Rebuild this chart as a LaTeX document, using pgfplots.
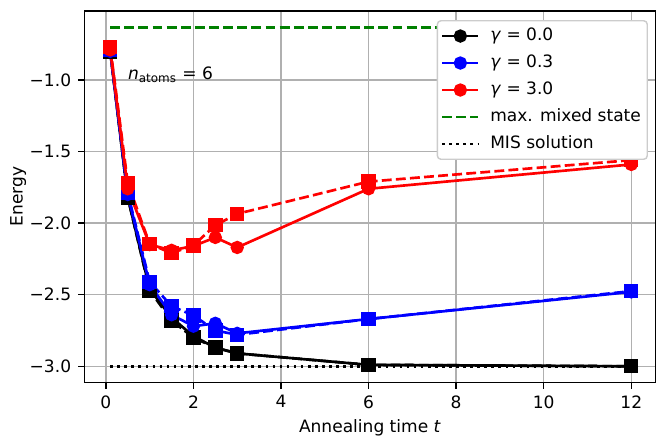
\documentclass[border=0pt]{standalone}
\usepackage{pgfplots}
\pgfplotsset{compat=1.18}
\usepackage{fontspec}
\setmainfont{DejaVu Sans}
\definecolor{gridgray}{HTML}{B0B0B0}
\definecolor{mplgreen}{HTML}{008000}
\definecolor{legframe}{HTML}{CCCCCC}
\begin{document}
\begin{tikzpicture}[font=\fontsize{9.6}{11.5}\selectfont]
\begin{axis}[
  scale only axis, width=321.4pt, height=209.1pt,
  xmin=-0.486, xmax=12.548, ymin=-3.112, ymax=-0.518,
  xtick={0,2,4,6,8,10,12}, xticklabels={0,2,4,6,8,10,12},
  ytick={-3,-2.5,-2,-1.5,-1}, yticklabels={−3.0,−2.5,−2.0,−1.5,−1.0},
  tick align=outside, xtick pos=lower, ytick pos=left,
  major tick length=3.5pt,
  tick style={line width=0.8pt, black},
  grid=major, grid style={line width=0.8pt, color=gridgray},
  axis line style={line width=0.8pt},
  xlabel={Annealing time \textit{t}}, ylabel={Energy},
  xlabel style={at={(axis description cs:0.5,-0.1363)}, anchor=base, inner sep=0pt},
  ylabel style={at={(axis description cs:-0.1086,0.5)}, anchor=base, inner sep=0pt},
  xticklabel style={anchor=north, inner sep=0pt},
  yticklabel style={anchor=east, inner sep=0pt},
  xticklabel shift=3.7pt, yticklabel shift=3.9pt,
  legend cell align=left,
  legend style={at={(axis description cs:0.9872,0.9756)}, anchor=north east,
    draw=legframe, line width=0.8pt, rounded corners=2pt, fill=white,
    inner xsep=2pt, inner ysep=2.2pt, row sep=2.4pt, column sep=4.3pt,
    nodes={inner sep=1.6pt, text height=7.2pt, text depth=2.4pt}},
  legend image code/.code={\draw[#1, mark repeat=2, mark phase=2] plot coordinates {(0pt,0pt) (10.2pt,0pt) (20.4pt,0pt)};},
  every axis plot/.append style={line width=1.5pt},
  clip=false,
]
% gamma = 0.0
\addplot[black, solid, mark=*, mark size=3pt] coordinates {
 (0.1,-0.80) (0.5,-1.82) (1,-2.46) (1.5,-2.66) (2,-2.79) (2.5,-2.87) (3,-2.91) (6,-2.99) (12,-3.00)};
\addlegendentry{\textit{γ} = 0.0}
\addplot[black, dash pattern=on 5.55pt off 2.4pt, mark=square*, mark size=3.3pt, mark options={solid}, forget plot] coordinates {
 (0.1,-0.80) (0.5,-1.82) (1,-2.47) (1.5,-2.68) (2,-2.80) (2.5,-2.87) (3,-2.91) (6,-2.99) (12,-3.00)};
% gamma = 0.3
\addplot[blue, solid, mark=*, mark size=3pt] coordinates {
 (0.1,-0.80) (0.5,-1.80) (1,-2.43) (1.5,-2.64) (2,-2.72) (2.5,-2.70) (3,-2.77) (6,-2.67) (12,-2.48)};
\addlegendentry{\textit{γ} = 0.3}
\addplot[blue, dash pattern=on 5.55pt off 2.4pt, mark=square*, mark size=3.3pt, mark options={solid}, forget plot] coordinates {
 (0.1,-0.79) (0.5,-1.79) (1,-2.41) (1.5,-2.58) (2,-2.645) (2.5,-2.75) (3,-2.78) (6,-2.67) (12,-2.475)};
% gamma = 3.0
\addplot[red, solid, mark=*, mark size=3pt] coordinates {
 (0.1,-0.79) (0.5,-1.76) (1,-2.15) (1.5,-2.19) (2,-2.16) (2.5,-2.10) (3,-2.17) (6,-1.76) (12,-1.59)};
\addlegendentry{\textit{γ} = 3.0}
\addplot[red, dash pattern=on 5.55pt off 2.4pt, mark=square*, mark size=3.3pt, mark options={solid}, forget plot] coordinates {
 (0.1,-0.77) (0.5,-1.72) (1,-2.145) (1.5,-2.21) (2,-2.155) (2.5,-2.015) (3,-1.935) (6,-1.71) (12,-1.56)};
% reference lines
\addplot[mplgreen, dash pattern=on 5.55pt off 2.4pt, no marks] coordinates {(0.1,-0.632) (12,-0.632)};
\addlegendentry{max. mixed state}
\addplot[black, dash pattern=on 1.5pt off 2.475pt, no marks] coordinates {(0.1,-3.0) (12,-3.0)};
\addlegendentry{MIS solution}
\node[anchor=base west, inner sep=0pt] at (axis cs:0.5,-1.0) {\textit{n}\textsubscript{atoms} = 6};
\end{axis}
\useasboundingbox (-47.64pt,-29.98pt) rectangle (321.4pt,215.3pt);
\end{tikzpicture}
\end{document}
